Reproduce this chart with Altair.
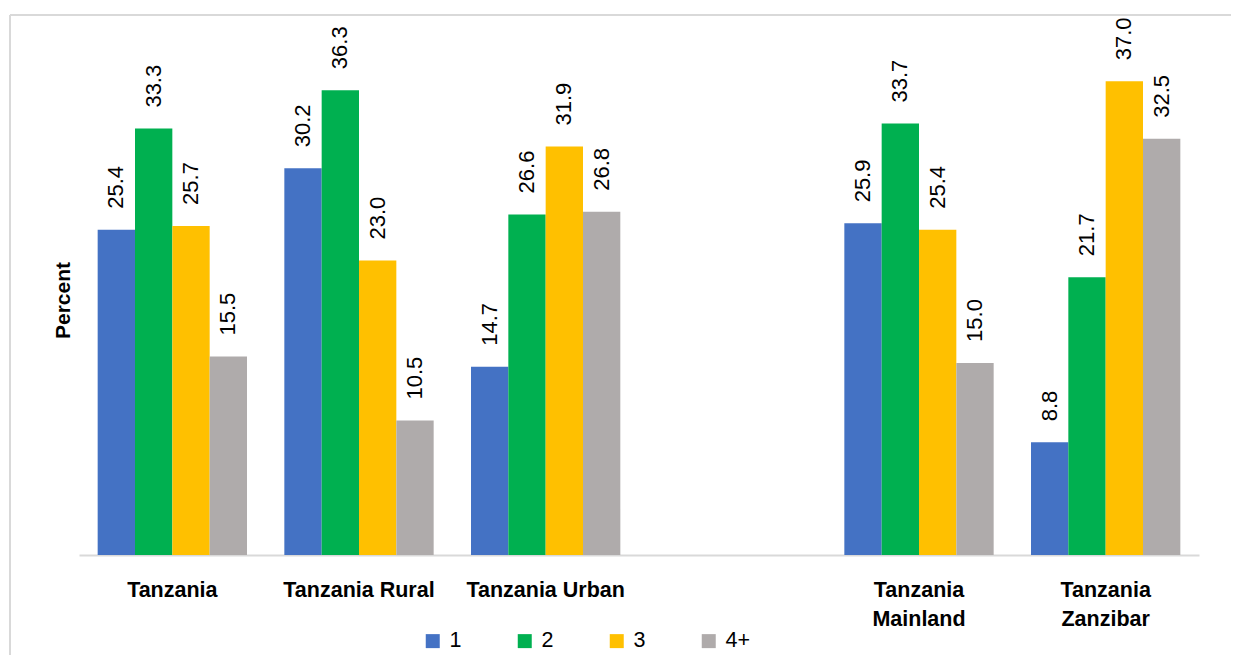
import altair as alt
import pandas as pd

categories = ["Tanzania", "Tanzania Rural", "Tanzania Urban", " ", "Tanzania Mainland", "Tanzania Zanzibar"]
sizes = ["1", "2", "3", "4+"]
colors = ["#4472C4", "#00B050", "#FFC000", "#AFABAB"]

v_tanzania = [25.4, 33.3, 25.7, 15.5]
v_rural = [30.2, 36.3, 23.0, 10.5]
v_urban = [14.7, 26.6, 31.9, 26.8]
v_mainland = [25.9, 33.7, 25.4, 15.0]
v_zanzibar = [8.8, 21.7, 37.0, 32.5]

series = {
    "Tanzania": v_tanzania,
    "Tanzania Rural": v_rural,
    "Tanzania Urban": v_urban,
    "Tanzania Mainland": v_mainland,
    "Tanzania Zanzibar": v_zanzibar,
}
rows = []
for cat, vals in series.items():
    for s, v in zip(sizes, vals):
        rows.append({"cat": cat, "size": s, "value": v})
df = pd.DataFrame(rows)

FONT = "Liberation Sans, Arial, sans-serif"

base = alt.Chart(df).encode(
    x=alt.X(
        "cat:N",
        sort=categories,
        scale=alt.Scale(domain=categories, paddingInner=0.2, paddingOuter=0.1),
        axis=alt.Axis(
            title=None,
            labelAngle=0,
            labelFont=FONT,
            labelFontSize=21.5,
            labelFontWeight="bold",
            labelColor="#000000",
            labelPadding=24,
            labelBaseline="top",
            labelLineHeight=29,
            labelLimit=400,
            labelExpr="indexof(datum.label, 'Mainland') >= 0 || indexof(datum.label, 'Zanzibar') >= 0 ? split(datum.label, ' ') : datum.label",
            ticks=False,
            tickSize=0,
            domainColor="#D9D9D9",
            domainWidth=2,
            grid=False,
        ),
    ),
    xOffset=alt.XOffset("size:N", sort=sizes, scale=alt.Scale(domain=sizes, paddingInner=0, paddingOuter=0)),
    y=alt.Y(
        "value:Q",
        scale=alt.Scale(domain=[0, 41], nice=False),
        axis=alt.Axis(
            title="Percent",
            titleFont=FONT,
            titleFontSize=21,
            titleFontWeight="bold",
            titleColor="#000000",
            titlePadding=6,
            titleY=270,
            labels=False,
            ticks=False,
            tickSize=0,
            domain=False,
            grid=False,
        ),
    ),
)

bars = base.mark_bar().encode(
    color=alt.Color(
        "size:N",
        sort=sizes,
        scale=alt.Scale(domain=sizes, range=colors),
        legend=alt.Legend(
            title=None,
            orient="none",
            legendX=343,
            legendY=600,
            direction="horizontal",
            columns=4,
            gridAlign="all",
            columnPadding=39,
            symbolType="square",
            symbolSize=196,
            symbolStrokeWidth=0,
            labelFont=FONT,
            labelFontSize=21.5,
            labelColor="#000000",
            labelOffset=6,
            padding=0,
        ),
    )
)

labels = base.mark_text(
    angle=270, align="left", baseline="middle", dx=21, font=FONT, fontSize=22, color="#000000"
).encode(text=alt.Text("value:Q", format=".1f"))

frame = pd.DataFrame({"a": [0]})
border_top = alt.Chart(frame).mark_rule(stroke="#D9D9D9", strokeWidth=2).encode(
    x=alt.value(-69), x2=alt.value(1160), y=alt.value(-15)
)
border_left = alt.Chart(frame).mark_rule(stroke="#D9D9D9", strokeWidth=2).encode(
    x=alt.value(-69), y=alt.value(-15), y2=alt.value(640)
)

chart = (
    alt.layer(border_top, border_left, bars, labels)
    .properties(
        width=1120,
        height=525,
        autosize=alt.AutoSizeParams(type="none"),
        padding={"left": 71, "top": 22, "right": 32, "bottom": 100},
        view=alt.ViewBackground(stroke="#FFFFFF", strokeWidth=0, strokeOpacity=0),
    )
    .configure_view(stroke="#FFFFFF", strokeWidth=0, strokeOpacity=0)
    .configure_axisY(domain=False, grid=False, ticks=False)
    .configure(background="#FFFFFF")
)

chart.save("out.html", embed_options={"renderer": "svg", "actions": False})
